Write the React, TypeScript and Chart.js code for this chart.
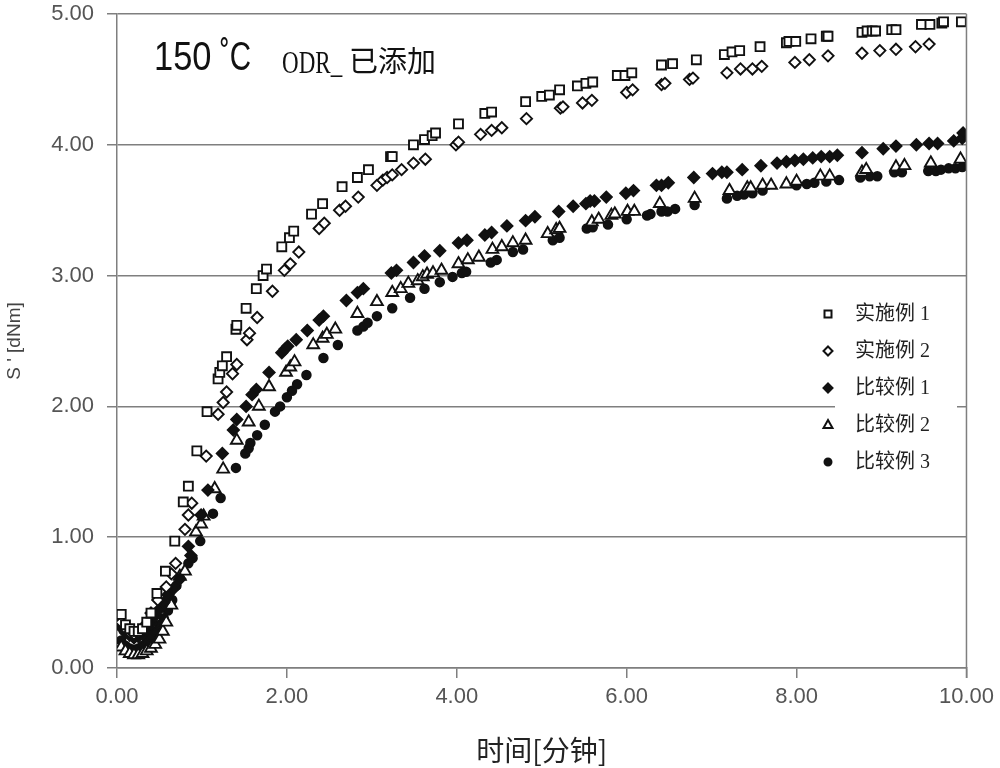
import React, { useEffect, useRef } from 'react';
import { Chart, registerables } from 'chart.js';

Chart.register(...registerables);

// ---------- data ----------
const seriesNames = ['实施例 1', '实施例 2', '比较例 1', '比较例 2', '比较例 3'];
const xTickValues = [0, 2, 4, 6, 8, 10];
const yTickValues = [0, 1, 2, 3, 4, 5];

const ex1X = [0.05, 0.10, 0.15, 0.20, 0.25, 0.30, 0.35, 0.40, 0.47, 0.57, 0.68, 0.78, 0.84, 0.94, 1.06, 1.19, 1.21, 1.24, 1.29, 1.40, 1.41, 1.52, 1.64, 1.72, 1.76, 1.94, 2.03, 2.08, 2.29, 2.42, 2.65, 2.83, 2.96, 3.22, 3.24, 3.49, 3.62, 3.71, 3.75, 4.02, 4.33, 4.41, 4.81, 5.00, 5.09, 5.21, 5.42, 5.52, 5.60, 5.89, 5.98, 6.06, 6.41, 6.54, 6.82, 7.15, 7.24, 7.33, 7.57, 7.88, 7.91, 7.99, 8.17, 8.35, 8.37, 8.77, 8.83, 8.89, 8.93, 9.12, 9.17, 9.47, 9.57, 9.71, 9.73, 9.94];
const ex1Y = [0.41, 0.33, 0.30, 0.28, 0.28, 0.30, 0.35, 0.42, 0.57, 0.74, 0.97, 1.27, 1.39, 1.66, 1.96, 2.21, 2.26, 2.31, 2.38, 2.59, 2.62, 2.75, 2.90, 3.00, 3.05, 3.22, 3.29, 3.34, 3.47, 3.55, 3.68, 3.75, 3.81, 3.91, 3.91, 4.00, 4.04, 4.07, 4.09, 4.16, 4.24, 4.25, 4.33, 4.37, 4.38, 4.42, 4.45, 4.47, 4.48, 4.53, 4.53, 4.55, 4.61, 4.62, 4.65, 4.69, 4.71, 4.72, 4.75, 4.78, 4.79, 4.79, 4.81, 4.83, 4.83, 4.86, 4.87, 4.87, 4.87, 4.88, 4.88, 4.92, 4.92, 4.93, 4.94, 4.94];

const ex2X = [0.05, 0.10, 0.15, 0.20, 0.25, 0.30, 0.35, 0.40, 0.48, 0.58, 0.64, 0.69, 0.80, 0.84, 0.88, 1.05, 1.19, 1.25, 1.29, 1.36, 1.41, 1.53, 1.56, 1.65, 1.83, 1.97, 2.04, 2.14, 2.38, 2.44, 2.62, 2.69, 2.84, 3.06, 3.13, 3.18, 3.24, 3.35, 3.49, 3.63, 3.99, 4.02, 4.28, 4.41, 4.53, 4.82, 5.22, 5.25, 5.48, 5.59, 6.00, 6.07, 6.41, 6.45, 6.74, 6.78, 7.18, 7.34, 7.48, 7.59, 7.98, 8.15, 8.37, 8.77, 8.98, 9.17, 9.40, 9.56];
const ex2Y = [0.35, 0.30, 0.27, 0.26, 0.27, 0.29, 0.34, 0.42, 0.52, 0.62, 0.72, 0.80, 1.06, 1.17, 1.26, 1.62, 1.94, 2.03, 2.11, 2.25, 2.32, 2.51, 2.56, 2.68, 2.88, 3.04, 3.09, 3.18, 3.36, 3.40, 3.50, 3.53, 3.60, 3.69, 3.73, 3.75, 3.77, 3.81, 3.86, 3.89, 4.00, 4.02, 4.08, 4.11, 4.13, 4.20, 4.28, 4.29, 4.32, 4.34, 4.40, 4.42, 4.46, 4.47, 4.50, 4.51, 4.55, 4.58, 4.58, 4.60, 4.63, 4.65, 4.68, 4.70, 4.72, 4.73, 4.75, 4.77];

const cmp1X = [0.05, 0.10, 0.15, 0.20, 0.25, 0.30, 0.35, 0.40, 0.45, 0.50, 0.55, 0.60, 0.67, 0.74, 0.84, 0.87, 0.99, 1.07, 1.24, 1.37, 1.41, 1.52, 1.59, 1.64, 1.79, 1.94, 1.98, 2.01, 2.11, 2.24, 2.38, 2.43, 2.70, 2.83, 2.90, 3.23, 3.29, 3.49, 3.62, 3.80, 4.02, 4.12, 4.33, 4.41, 4.59, 4.81, 4.92, 5.20, 5.37, 5.52, 5.57, 5.62, 5.76, 5.99, 6.08, 6.35, 6.41, 6.49, 6.79, 7.01, 7.12, 7.18, 7.36, 7.58, 7.77, 7.88, 7.98, 8.08, 8.19, 8.29, 8.39, 8.48, 8.77, 9.02, 9.17, 9.41, 9.56, 9.66, 9.85, 9.95, 9.96];
const cmp1Y = [0.31, 0.27, 0.25, 0.23, 0.24, 0.26, 0.29, 0.34, 0.40, 0.45, 0.50, 0.56, 0.61, 0.68, 0.93, 0.86, 1.17, 1.36, 1.64, 1.82, 1.90, 2.00, 2.09, 2.13, 2.26, 2.41, 2.44, 2.46, 2.51, 2.58, 2.66, 2.69, 2.81, 2.87, 2.90, 3.02, 3.04, 3.10, 3.15, 3.19, 3.25, 3.27, 3.31, 3.33, 3.38, 3.42, 3.45, 3.49, 3.53, 3.55, 3.57, 3.57, 3.60, 3.63, 3.65, 3.69, 3.69, 3.71, 3.75, 3.78, 3.79, 3.79, 3.81, 3.84, 3.86, 3.87, 3.88, 3.89, 3.90, 3.91, 3.91, 3.92, 3.94, 3.97, 3.99, 4.00, 4.01, 4.01, 4.03, 4.05, 4.09];

const cmp2X = [0.05, 0.10, 0.15, 0.20, 0.25, 0.30, 0.35, 0.40, 0.45, 0.50, 0.54, 0.58, 0.64, 0.74, 0.80, 0.93, 0.99, 1.02, 1.15, 1.25, 1.41, 1.55, 1.67, 1.79, 1.99, 2.04, 2.09, 2.31, 2.42, 2.47, 2.57, 2.83, 3.06, 3.24, 3.34, 3.43, 3.54, 3.60, 3.65, 3.72, 3.82, 4.02, 4.13, 4.26, 4.42, 4.53, 4.66, 4.81, 5.07, 5.17, 5.21, 5.59, 5.67, 5.82, 5.86, 6.01, 6.09, 6.39, 6.80, 7.21, 7.42, 7.46, 7.60, 7.70, 7.88, 8.00, 8.28, 8.39, 8.77, 8.82, 9.17, 9.27, 9.58, 9.93];
const cmp2Y = [0.16, 0.13, 0.11, 0.10, 0.10, 0.11, 0.13, 0.15, 0.18, 0.22, 0.28, 0.35, 0.48, 0.70, 0.74, 1.04, 1.10, 1.16, 1.37, 1.52, 1.74, 1.88, 2.00, 2.15, 2.26, 2.30, 2.34, 2.47, 2.52, 2.55, 2.59, 2.71, 2.80, 2.87, 2.90, 2.94, 2.96, 2.99, 3.01, 3.02, 3.04, 3.09, 3.12, 3.14, 3.20, 3.22, 3.25, 3.27, 3.32, 3.35, 3.36, 3.41, 3.43, 3.46, 3.47, 3.49, 3.49, 3.55, 3.59, 3.65, 3.67, 3.67, 3.69, 3.69, 3.70, 3.72, 3.76, 3.76, 3.79, 3.81, 3.83, 3.84, 3.86, 3.89];

const cmp3X = [0.05, 0.10, 0.15, 0.20, 0.25, 0.30, 0.35, 0.40, 0.45, 0.50, 0.55, 0.60, 0.65, 0.70, 0.84, 0.89, 0.98, 1.13, 1.22, 1.40, 1.51, 1.55, 1.57, 1.65, 1.74, 1.86, 1.92, 2.00, 2.06, 2.12, 2.23, 2.43, 2.60, 2.83, 2.90, 2.95, 3.06, 3.24, 3.45, 3.62, 3.80, 3.95, 4.06, 4.11, 4.40, 4.47, 4.66, 4.78, 5.13, 5.21, 5.53, 5.60, 5.78, 6.00, 6.24, 6.28, 6.41, 6.48, 6.57, 6.80, 7.18, 7.30, 7.38, 7.48, 7.60, 8.00, 8.12, 8.21, 8.35, 8.50, 8.75, 8.86, 8.95, 9.15, 9.24, 9.55, 9.64, 9.70, 9.79, 9.87, 9.95];
const cmp3Y = [0.21, 0.17, 0.15, 0.14, 0.15, 0.17, 0.20, 0.24, 0.28, 0.33, 0.38, 0.44, 0.52, 0.63, 0.80, 0.84, 0.97, 1.18, 1.30, 1.53, 1.64, 1.68, 1.72, 1.78, 1.86, 1.96, 2.00, 2.07, 2.12, 2.17, 2.24, 2.37, 2.47, 2.58, 2.61, 2.64, 2.69, 2.75, 2.83, 2.90, 2.95, 2.99, 3.02, 3.03, 3.10, 3.12, 3.18, 3.20, 3.27, 3.29, 3.36, 3.37, 3.39, 3.43, 3.46, 3.47, 3.49, 3.49, 3.51, 3.54, 3.59, 3.61, 3.62, 3.63, 3.65, 3.69, 3.70, 3.71, 3.72, 3.73, 3.75, 3.76, 3.76, 3.79, 3.79, 3.80, 3.80, 3.81, 3.82, 3.82, 3.83];

// ---------- styles ----------
const AXIS = '#7f7f7f';
const TICK_FONT = '"Liberation Sans", Arial, sans-serif';
const CJK = '"Noto Sans CJK SC", sans-serif';
const MARK = '#111';

const toPts = (xs: number[], ys: number[]) => xs.map((x, i) => ({ x, y: ys[i] }));

const styles = [
  { pointStyle: 'rect', radius: 6.3, fill: '#fff' },
  { pointStyle: 'rectRot', radius: 5.6, fill: '#fff' },
  { pointStyle: 'rectRot', radius: 5.6, fill: MARK },
  { pointStyle: 'triangle', radius: 6.8, fill: '#fff' },
  { pointStyle: 'circle', radius: 4.3, fill: MARK },
];

function drawLegendMarker(ctx: CanvasRenderingContext2D, i: number, x: number, y: number) {
  ctx.save();
  ctx.lineWidth = 2;
  ctx.strokeStyle = MARK;
  ctx.fillStyle = styles[i].fill;
  ctx.beginPath();
  if (i === 0) {
    ctx.rect(x - 3.5, y - 3.5, 7, 7);
  } else if (i === 1 || i === 2) {
    ctx.moveTo(x, y - 4.5); ctx.lineTo(x + 4.5, y); ctx.lineTo(x, y + 4.5); ctx.lineTo(x - 4.5, y); ctx.closePath();
  } else if (i === 3) {
    ctx.moveTo(x, y - 5); ctx.lineTo(x + 4.5, y + 3); ctx.lineTo(x - 4.5, y + 3); ctx.closePath();
  } else {
    ctx.arc(x, y, 3.5, 0, Math.PI * 2);
  }
  ctx.fill();
  ctx.stroke();
  ctx.restore();
}

function scaledText(ctx: CanvasRenderingContext2D, text: string, x: number, y: number, sx: number) {
  ctx.save();
  ctx.translate(x, y);
  ctx.scale(sx, 1);
  ctx.fillText(text, 0, 0);
  ctx.restore();
}

const overlayPlugin = {
  id: 'overlay',
  afterDraw(chart: any) {
    const ctx: CanvasRenderingContext2D = chart.ctx;
    const { top, bottom, right } = chart.chartArea;
    ctx.save();
    // right frame line
    ctx.strokeStyle = AXIS;
    ctx.lineWidth = 1.5;
    ctx.beginPath();
    ctx.moveTo(right, top);
    ctx.lineTo(right, bottom + 10);
    ctx.stroke();

    // in-plot title
    ctx.fillStyle = '#111';
    ctx.textBaseline = 'alphabetic';
    ctx.textAlign = 'left';
    ctx.font = `41px ${TICK_FONT}`;
    scaledText(ctx, '150', 154, 70, 0.84);
    scaledText(ctx, '˚C', 220, 70, 0.72);
    ctx.font = `32px "Liberation Serif", serif`;
    scaledText(ctx, 'ODR_', 282, 73, 0.72);
    ctx.font = `29px ${CJK}`;
    ctx.fillText('已添加', 349, 72);

    // legend box
    ctx.fillStyle = '#fff';
    ctx.fillRect(835, 296, 122, 184);
    const ys = [314, 351, 388, 425, 462];
    ctx.font = `20px "Liberation Serif", ${CJK}`;
    ctx.textBaseline = 'middle';
    seriesNames.forEach((name, i) => {
      drawLegendMarker(ctx, i, 828, ys[i]);
      ctx.fillStyle = '#222';
      ctx.fillText(name, 855, ys[i] + 1);
    });
    ctx.restore();
  },
};

export default function App() {
  const ref = useRef<HTMLCanvasElement | null>(null);

  useEffect(() => {
    if (!ref.current) return;
    const allX = [ex1X, ex2X, cmp1X, cmp2X, cmp3X];
    const allY = [ex1Y, ex2Y, cmp1Y, cmp2Y, cmp3Y];
    const datasets = seriesNames.map((name, i) => ({
      label: name,
      data: toPts(allX[i], allY[i]),
      showLine: false,
      pointStyle: styles[i].pointStyle,
      pointRadius: styles[i].radius,
      pointBackgroundColor: styles[i].fill,
      pointBorderColor: MARK,
      pointBorderWidth: 1.9,
      backgroundColor: styles[i].fill,
      borderColor: MARK,
    }));

    const chart = new Chart(ref.current, {
      type: 'scatter',
      data: { datasets },
      plugins: [overlayPlugin],
      options: {
        responsive: false,
        animation: false,
        devicePixelRatio: 1,
        layout: { padding: { top: 14, right: 32, bottom: 0, left: 0 } },
        plugins: { legend: { display: false }, tooltip: { enabled: false } },
        scales: {
          x: {
            type: 'linear',
            min: 0,
            max: 10,
            afterFit: (s: any) => { s.height = 100; },
            afterBuildTicks: (s: any) => { s.ticks = xTickValues.map((v) => ({ value: v })); },
            ticks: {
              padding: 6,
              color: '#555',
              font: { family: TICK_FONT, size: 22 },
              callback: (v: any) => Number(v).toFixed(2),
              maxRotation: 0,
            },
            grid: { drawOnChartArea: false, drawTicks: true, tickLength: 10, color: AXIS, lineWidth: 1.5 },
            border: { display: true, color: AXIS, width: 1.5 },
            title: {
              display: true,
              text: '时间[分钟]',
              color: '#222',
              font: { family: CJK, size: 28 },
              padding: { top: 0, bottom: 1 },
            },
          },
          y: {
            type: 'linear',
            min: 0,
            max: 5,
            afterFit: (s: any) => { s.width = 117; s.paddingTop = 0; s.paddingBottom = 0; },
            afterBuildTicks: (s: any) => { s.ticks = yTickValues.map((v) => ({ value: v })); },
            ticks: {
              padding: 13,
              color: '#555',
              font: { family: TICK_FONT, size: 22 },
              callback: (v: any) => Number(v).toFixed(2),
            },
            grid: { drawOnChartArea: true, drawTicks: true, tickLength: 10, color: AXIS, lineWidth: 1.5 },
            border: { display: true, color: AXIS, width: 1.5 },
            title: {
              display: true,
              text: "S ' [dNm]",
              color: '#444',
              font: { family: TICK_FONT, size: 19 },
              padding: { top: 3, bottom: 0 },
            },
          },
        },
      },
    } as any);
    return () => chart.destroy();
  }, []);

  return (
    <div style={{ position: 'absolute', left: 0, top: 0, width: 1000, height: 768, background: '#fff' }}>
      <canvas ref={ref} width={1000} height={768} />
    </div>
  );
}
